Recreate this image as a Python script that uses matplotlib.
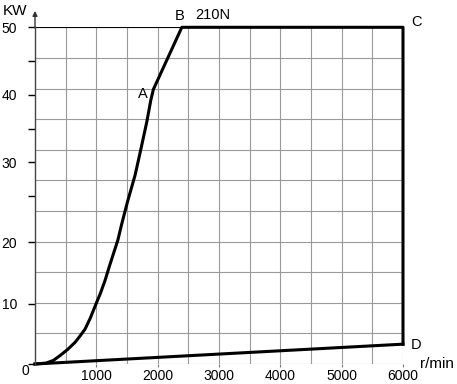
import numpy as np
import matplotlib
matplotlib.use("Agg")
import matplotlib.pyplot as plt

plt.rcParams["font.family"] = ["Liberation Sans", "DejaVu Sans"]

# upper curve: origin -> A -> B -> C -> D (r/min, kW)
rpm_upper = [0, 180, 300, 408, 530, 653, 730, 816, 900, 995, 1070, 1142,
             1210, 1278, 1350, 1415, 1513, 1632, 1730, 1823, 1888, 1930,
             2394, 6000, 6000]
kw_upper = [0, 0.15, 0.6, 1.4, 2.4, 3.6, 4.6, 5.8, 7.6, 10.0, 11.8, 13.8,
            16.0, 18.1, 20.2, 22.0, 24.5, 28.1, 32.1, 36.0, 39.2, 40.8,
            50.0, 50.0, 3.3]

# lower line: origin -> D
rpm_lower = [0, 6000]
kw_lower = [0, 3.3]

# corner labels
point_names = ["A", "B", "C", "D"]
point_rpm = [1930, 2394, 6000, 6000]
point_kw = [40.8, 50.0, 50.0, 3.3]
torque_label = "210N"

x_ticks = [1000, 2000, 3000, 4000, 5000, 6000]
y_ticks = [0, 10, 20, 30, 40, 50]
y_minor = [25, 35, 45]

# the printed y axis is not linear: the scale changes above 20 kW
knot_kw = [0, 10, 20, 25, 50]
knot_pos = [0, 60, 121.6, 167.6, 336]


def fwd(v):
    return np.interp(v, knot_kw, knot_pos)


def inv(p):
    return np.interp(p, knot_pos, knot_kw)


fig = plt.figure(figsize=(4.57, 3.84), dpi=100)
ax = fig.add_axes([35 / 457, 20 / 384, 368 / 457, 336.7 / 384])
ax.set_yscale("function", functions=(fwd, inv))
ax.set_xlim(0, 6000)
ax.set_ylim(0, 50)

# grid: vertical every 500 r/min, horizontal 11 even divisions
for gx in np.arange(500, 6001, 500):
    ax.plot([gx, gx], [0, 1], transform=ax.get_xaxis_transform(),
            color="#9a9a9a", lw=0.8, zorder=1)
for i in range(11):
    ax.plot([0, 1], [i / 11, i / 11], transform=ax.transAxes,
            color="#9a9a9a", lw=0.8, zorder=1)
ax.plot([0, 1], [1, 1], transform=ax.transAxes, color="black", lw=0.8, zorder=1)

ax.plot(rpm_upper, kw_upper, color="black", lw=2.2, zorder=3,
        solid_joinstyle="round", clip_on=False)
ax.plot(rpm_lower, kw_lower, color="black", lw=2.2, zorder=3, clip_on=False)

for s in ["top", "right", "bottom"]:
    ax.spines[s].set_visible(False)
ax.spines["left"].set_color("#444444")
ax.spines["left"].set_linewidth(1.0)
ax.spines["left"].set_zorder(4)

ax.set_xticks(x_ticks)
ax.set_xticklabels([str(v) for v in x_ticks])
ax.tick_params(axis="x", length=2, width=0.8, color="#777777", pad=1.5,
               labelsize=10)
ax.set_yticks(y_ticks)
ax.set_yticklabels([""] + [str(v) for v in y_ticks[1:]])
ax.set_yticks(y_minor, minor=True)
ax.tick_params(axis="y", which="both", length=5, width=1.0, color="black",
               pad=8, labelsize=10)

# arrow on the y axis
ax.annotate("", xy=(0, 1.057), xytext=(0, 0.99), xycoords="axes fraction",
            arrowprops=dict(arrowstyle="-|>", color="#333333", lw=1.0,
                            mutation_scale=7))

offsets = {"A": (-11, -5), "B": (-2, 11), "C": (13, 5), "D": (13, -1)}
for name, r, k in zip(point_names, point_rpm, point_kw):
    ax.annotate(name, xy=(r, k), xytext=offsets[name], textcoords="offset pixels",
                ha="center", va="center", fontsize=10.5, annotation_clip=False)
ax.annotate(torque_label, xy=(point_rpm[1], point_kw[1]), xytext=(31, 12),
            textcoords="offset pixels", ha="center", va="center", fontsize=10.5,
            annotation_clip=False)

ax.annotate("0", xy=(0, 0), xytext=(-10, -7), textcoords="offset pixels",
            ha="center", va="center", fontsize=10, annotation_clip=False)
ax.annotate("r/min", xy=(6000, 0), xytext=(34, 0), textcoords="offset pixels",
            ha="center", va="center", fontsize=11, annotation_clip=False)
fig.text(15 / 457, 1 - 11 / 384, "KW", ha="center", va="center", fontsize=11)

fig.savefig("out.png", dpi=100)
